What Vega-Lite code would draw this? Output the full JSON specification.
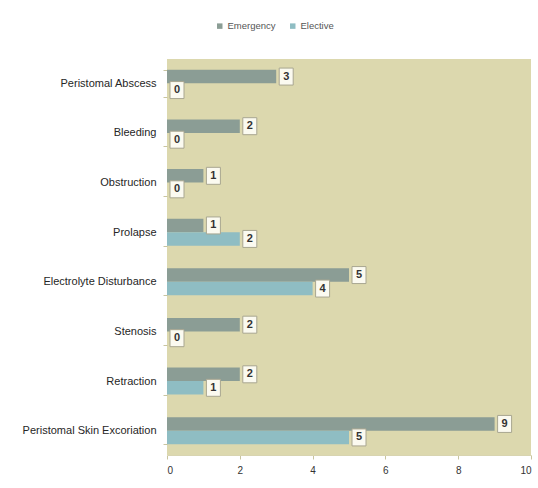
{
  "$schema": "https://vega.github.io/schema/vega-lite/v6.json",
  "width": 364,
  "height": 396,
  "autosize": {"type": "none"},
  "padding": {"left": 167, "top": 59, "right": 7, "bottom": 33},
  "background": "#ffffff",
  "config": {
    "view": {"fill": "#dcd8ae", "stroke": null},
    "font": "Liberation Sans"
  },
  "data": {
    "values": [
      {"complication": "Peristomal Abscess", "type": "Emergency", "count": 3},
      {"complication": "Peristomal Abscess", "type": "Elective", "count": 0},
      {"complication": "Bleeding", "type": "Emergency", "count": 2},
      {"complication": "Bleeding", "type": "Elective", "count": 0},
      {"complication": "Obstruction", "type": "Emergency", "count": 1},
      {"complication": "Obstruction", "type": "Elective", "count": 0},
      {"complication": "Prolapse", "type": "Emergency", "count": 1},
      {"complication": "Prolapse", "type": "Elective", "count": 2},
      {"complication": "Electrolyte Disturbance", "type": "Emergency", "count": 5},
      {"complication": "Electrolyte Disturbance", "type": "Elective", "count": 4},
      {"complication": "Stenosis", "type": "Emergency", "count": 2},
      {"complication": "Stenosis", "type": "Elective", "count": 0},
      {"complication": "Retraction", "type": "Emergency", "count": 2},
      {"complication": "Retraction", "type": "Elective", "count": 1},
      {"complication": "Peristomal Skin Excoriation", "type": "Emergency", "count": 9},
      {"complication": "Peristomal Skin Excoriation", "type": "Elective", "count": 5}
    ]
  },
  "encoding": {
    "y": {
      "field": "complication",
      "type": "nominal",
      "sort": ["Peristomal Abscess", "Bleeding", "Obstruction", "Prolapse", "Electrolyte Disturbance", "Stenosis", "Retraction", "Peristomal Skin Excoriation"],
      "scale": {"paddingInner": 0.456, "paddingOuter": 0.218},
      "axis": {
        "title": null,
        "labelFontSize": 11,
        "labelColor": "#262626",
        "labelPadding": 7,
        "tickSize": 4,
        "tickColor": "#c8c4a0",
        "tickBand": "extent",
        "domain": false
      }
    },
    "yOffset": {
      "field": "type",
      "type": "nominal",
      "sort": ["Emergency", "Elective"],
      "scale": {"paddingInner": 0, "paddingOuter": 0}
    },
    "x": {
      "field": "count",
      "type": "quantitative",
      "scale": {"domain": [0, 10], "nice": false},
      "axis": {
        "title": null,
        "values": [0, 2, 4, 6, 8, 10],
        "grid": false,
        "labelFontSize": 10,
        "labelColor": "#333333",
        "labelPadding": 6,
        "tickSize": 4,
        "tickColor": "#c8c4a0",
        "domainColor": "#d8d4b0"
      }
    }
  },
  "layer": [
    {
      "mark": {"type": "bar"},
      "encoding": {
        "color": {
          "field": "type",
          "type": "nominal",
          "sort": ["Emergency", "Elective"],
          "scale": {"domain": ["Emergency", "Elective"], "range": ["#8b9d95", "#8fbdc3"]},
          "legend": {
            "title": null,
            "orient": "none",
            "direction": "horizontal",
            "legendX": 48,
            "legendY": -38,
            "symbolType": "square",
            "symbolSize": 30,
            "symbolStrokeWidth": 0,
            "labelFontSize": 9.5,
            "labelColor": "#555555",
            "columnPadding": 12,
            "labelOffset": 3
          }
        }
      }
    },
    {
      "mark": {
        "type": "point",
        "shape": "M0.6,-1.7H3.4V1.7H0.6Z",
        "size": 100,
        "filled": true,
        "fill": "#fbfaf0",
        "stroke": "#a8a690",
        "strokeWidth": 1,
        "opacity": 1
      }
    },
    {
      "mark": {
        "type": "text",
        "dx": 10,
        "fontSize": 11,
        "fontWeight": "bold",
        "color": "#333333",
        "align": "center",
        "baseline": "middle"
      },
      "encoding": {"text": {"field": "count", "type": "quantitative"}}
    }
  ]
}
